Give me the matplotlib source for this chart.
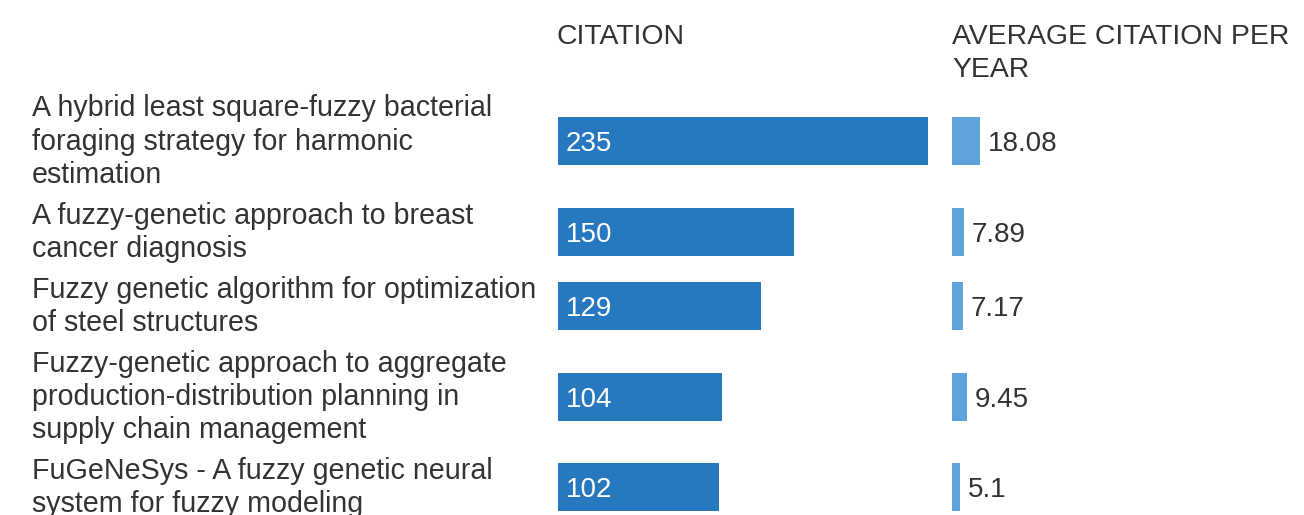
import matplotlib.pyplot as plt

plt.rcParams['font.family'] = ['Liberation Sans', 'DejaVu Sans']

titles = [
    "A hybrid least square-fuzzy bacterial\nforaging strategy for harmonic\nestimation",
    "A fuzzy-genetic approach to breast\ncancer diagnosis",
    "Fuzzy genetic algorithm for optimization\nof steel structures",
    "Fuzzy-genetic approach to aggregate\nproduction-distribution planning in\nsupply chain management",
    "FuGeNeSys - A fuzzy genetic neural\nsystem for fuzzy modeling",
]
citations = [235, 150, 129, 104, 102]
avg_per_year = [18.08, 7.89, 7.17, 9.45, 5.1]
avg_labels = ["18.08", "7.89", "7.17", "9.45", "5.1"]
headers = ["CITATION", "AVERAGE CITATION PER\nYEAR"]

W, H = 1304, 515
text_color = '#333333'
bar_dark = '#2878bf'
bar_light = '#5ea3dc'
fs = 20
line_h = 33  # px between text baselines


def draw_lines(fig, x_px, first_baseline_px, text, size):
    # one text per line so the line pitch is exact
    for k, line in enumerate(text.split('\n')):
        fig.text(x_px / W, 1 - (first_baseline_px + k * line_h) / H, line,
                 fontsize=size, color=text_color, va='baseline', ha='left')


def main():
    fig = plt.figure(figsize=(W / 100, H / 100), dpi=100)

    # row centres (in pixels from top) follow the number of label lines
    gap = 8.2
    n_lines = [t.count('\n') + 1 for t in titles]
    centers = []
    y = 91.5
    for n in n_lines:
        centers.append(y + n * line_h / 2)
        y += n * line_h + gap

    for t, c, n in zip(titles, centers, n_lines):
        draw_lines(fig, 32, c - (n - 1) * line_h / 2 + 8.5, t, 20.6)

    ax1 = fig.add_axes([558 / W, 0, 400 / W, 1])
    ax1.barh(centers, citations, height=48, color=bar_dark)
    ax1.set_xlim(0, 400 / 1.574)
    ax1.set_ylim(H, 0)
    ax1.axis('off')
    for c, v in zip(centers, citations):
        ax1.text(5, c, str(v), color='white', fontsize=fs,
                 va='center_baseline', ha='left')

    ax2 = fig.add_axes([952 / W, 0, 352 / W, 1])
    ax2.barh(centers, avg_per_year, height=48, color=bar_light)
    ax2.set_xlim(0, 352 / 1.55)
    ax2.set_ylim(H, 0)
    ax2.axis('off')
    for c, v, s in zip(centers, avg_per_year, avg_labels):
        ax2.text(v + 5, c, s, color=text_color, fontsize=fs,
                 va='center_baseline', ha='left')

    draw_lines(fig, 557, 44, headers[0], 20.4)
    draw_lines(fig, 952, 44, headers[1], 20.4)

    fig.savefig('out.png', dpi=100, facecolor='white')


if __name__ == '__main__':
    main()
